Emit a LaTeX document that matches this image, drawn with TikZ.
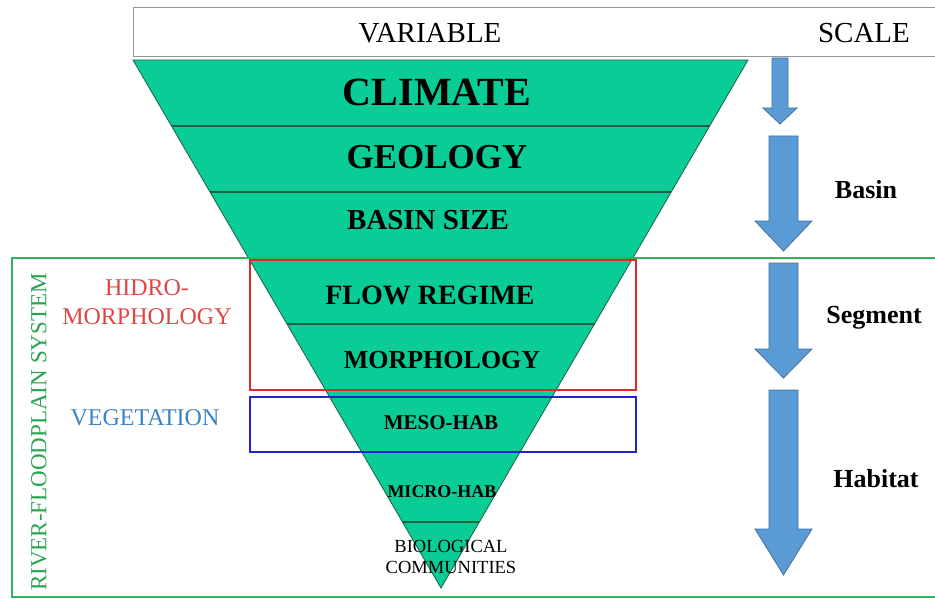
\documentclass[tikz,border=0pt]{standalone}
\usepackage{fontspec}
\setmainfont{Liberation Serif}
\usetikzlibrary{calc}
\definecolor{trifill}{RGB}{10,204,150}
\definecolor{triline}{RGB}{30,95,70}
\definecolor{arrfill}{RGB}{91,155,213}
\definecolor{arrline}{RGB}{65,113,156}
\definecolor{sysgreen}{RGB}{45,180,95}
\definecolor{sysgreentext}{RGB}{40,165,80}
\definecolor{hydrored}{RGB}{225,40,40}
\definecolor{hydrotext}{RGB}{225,70,70}
\definecolor{vegblue}{RGB}{35,35,210}
\definecolor{vegtext}{RGB}{60,130,200}
\definecolor{hdrline}{RGB}{150,150,150}
\begin{document}
\begin{tikzpicture}[x=1pt,y=-1pt,
  divider/.style={draw=triline,line width=1.2pt},
  scalearrow/.style={fill=arrfill,draw=arrline,line width=0.8pt,line join=miter},
  layertext/.style={text=black,font=\bfseries},
  scaletext/.style={text=black,font=\bfseries\fontsize{26}{28}\selectfont},
  sidelabel/.style={align=center,font=\fontsize{24}{29}\selectfont}]
\useasboundingbox (0,0) rectangle (935,599);
\clip (0,0) rectangle (935,599);
\fill[white] (0,0) rectangle (935,599);
% scale arrows
\path[scalearrow] (772,58) -- (788,58) -- (788,108) -- (797,108) -- (780,124) -- (763,108) -- (772,108) -- cycle;
\path[scalearrow] (769,136) -- (798,136) -- (798,221) -- (812,221) -- (783.5,251) -- (755,221) -- (769,221) -- cycle;
\path[scalearrow] (769,263) -- (798,263) -- (798,349) -- (812,349) -- (783.5,378) -- (755,349) -- (769,349) -- cycle;
\path[scalearrow] (769,390) -- (798,390) -- (798,529) -- (812,529) -- (783.5,575) -- (755,529) -- (769,529) -- cycle;
% header
\draw[hdrline,line width=1pt,fill=white] (133,8) rectangle (945,57);
\node[font=\fontsize{29}{31}\selectfont] (var) at (430,33) {VARIABLE};
\node[font=\fontsize{29}{31}\selectfont] (scl) at (864,33) {SCALE};
% triangle
\coordinate (TL) at (133,60);
\coordinate (TR) at (748,60);
\coordinate (AP) at (441,588);
\filldraw[fill=trifill,draw=triline,line width=0.8pt] (TL) -- (TR) -- (AP) -- cycle;
\foreach \t in {0.125,0.25,0.375,0.5,0.625,0.743,0.875}
  \draw[divider] ($(TL)!\t!(AP)$) -- ($(TR)!\t!(AP)$);
% system boxes
\draw[sysgreen,line width=2pt] (12,258) rectangle (950,597);
\draw[hydrored,line width=2.2pt] (250,260) rectangle (636,390);
\draw[vegblue,line width=2.2pt] (250,397) rectangle (636,452);
% layer texts
\node[layertext,font=\bfseries\fontsize{40}{42}\selectfont] (climate) at (437,92) {CLIMATE};
\node[layertext,font=\bfseries\fontsize{35}{37}\selectfont] (geology) at (437,157) {GEOLOGY};
\node[layertext,font=\bfseries\fontsize{29}{31}\selectfont] (basinsize) at (428,220) {BASIN SIZE};
\node[layertext,font=\bfseries\fontsize{28}{30}\selectfont] (flow) at (430,295) {FLOW REGIME};
\node[layertext,font=\bfseries\fontsize{26}{28}\selectfont] (morph) at (442,360) {MORPHOLOGY};
\node[layertext,font=\bfseries\fontsize{21}{23}\selectfont] (meso) at (441,423) {MESO-HAB};
\node[layertext,font=\bfseries\fontsize{18}{20}\selectfont] (micro) at (442,492) {MICRO-HAB};
\node[align=center,font=\fontsize{18.5}{21}\selectfont] (bio) at (451,557) {BIOLOGICAL\\COMMUNITIES};
% scale labels
\node[scaletext] (basin) at (866,190) {Basin};
\node[scaletext] (segment) at (874,318) {Segment};
\node[scaletext] (habitat) at (876,479) {Habitat};
% side labels
\node[sidelabel,text=hydrotext] (hydro) at (147,302) {HIDRO-\\MORPHOLOGY};
\node[sidelabel,text=vegtext] (veg) at (145,418) {VEGETATION};
\node[sidelabel,text=sysgreentext,rotate=90,font=\fontsize{23}{25}\selectfont] (sys) at (39,432) {RIVER-FLOODPLAIN SYSTEM};
\end{tikzpicture}
\end{document}
